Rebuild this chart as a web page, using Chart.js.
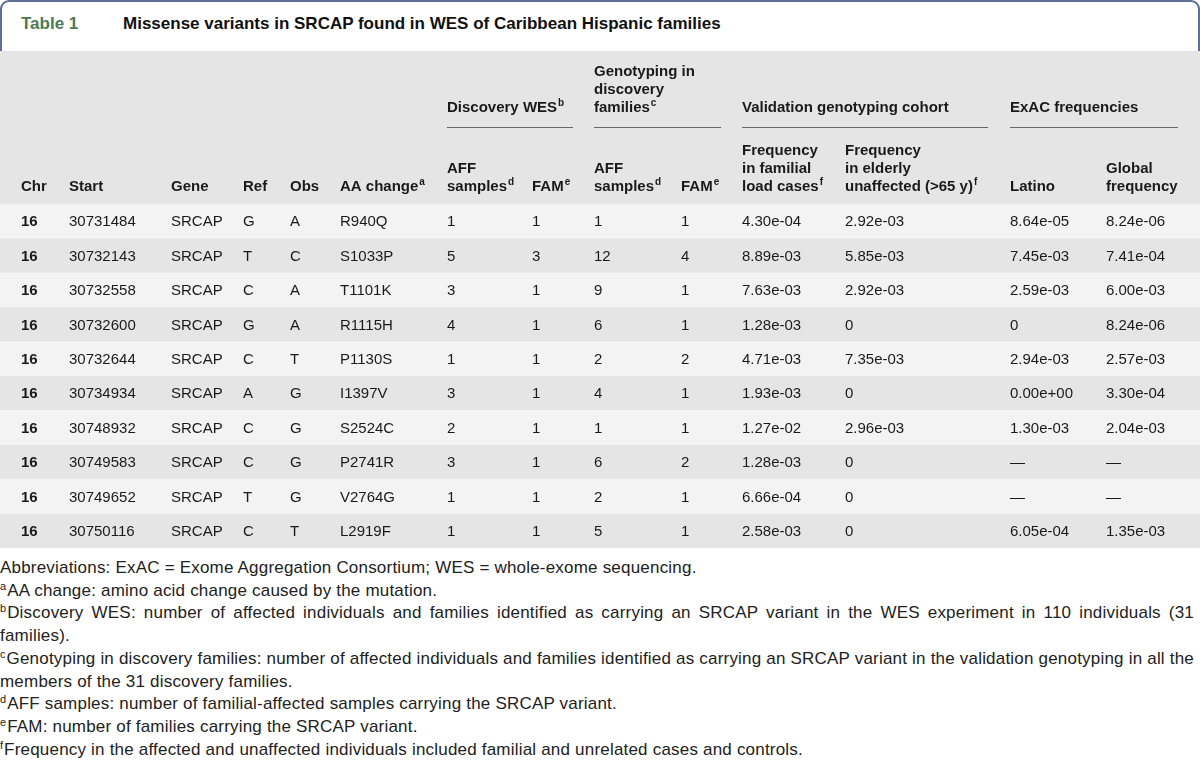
<!DOCTYPE html>
<html>
<head>
<meta charset="utf-8">
<script src="https://cdn.jsdelivr.net/npm/chart.js@4"></script>
<style>
  body { margin: 0; background: #fff; font-family: "Liberation Sans", Arial, sans-serif; }
  #wrap { position: relative; width: 1200px; height: 768px; overflow: hidden; }
  #titleBox {
    position: absolute; left: 0; top: 0; width: 1196px; height: 49px;
    border: 2px solid #5d6f97; border-bottom: none; border-radius: 9px 9px 0 0;
  }
  #titleBox .num { position: absolute; left: 19px; top: 12px; font-weight: bold; font-size: 17px; color: #4b7a57; }
  #titleBox .ttl { position: absolute; left: 121px; top: 12px; font-weight: bold; font-size: 17px; color: #111; }
  #tableBox { position: absolute; left: 0; top: 51px; width: 1200px; height: 497px; }
  #notes {
    position: absolute; left: 0; top: 557px; width: 1194px;
    font-size: 17px; letter-spacing: 0.2px; line-height: 22.7px; color: #222; text-align: justify;
  }
  #notes sup { font-size: 11px; line-height: 0; vertical-align: 6px; margin-right: 1px; letter-spacing: 0; }
</style>
</head>
<body>
<div id="wrap">
  <div id="titleBox">
    <span class="num">Table 1</span>
    <span class="ttl">Missense variants in SRCAP found in WES of Caribbean Hispanic families</span>
  </div>
  <div id="tableBox">
    <canvas id="tableCanvas" width="1200" height="497"></canvas>
  </div>
  <div id="notes">
    Abbreviations: ExAC = Exome Aggregation Consortium; WES = whole-exome sequencing.<br>
    <sup>a</sup>AA change: amino acid change caused by the mutation.<br>
    <sup>b</sup>Discovery WES: number of affected individuals and families identified as carrying an SRCAP variant in the WES experiment in 110 individuals (31 families).<br>
    <sup>c</sup>Genotyping in discovery families: number of affected individuals and families identified as carrying an SRCAP variant in the validation genotyping in all the members of the 31 discovery families.<br>
    <sup>d</sup>AFF samples: number of familial-affected samples carrying the SRCAP variant.<br>
    <sup>e</sup>FAM: number of families carrying the SRCAP variant.<br>
    <sup>f</sup>Frequency in the affected and unaffected individuals included familial and unrelated cases and controls.
  </div>
</div>

<script>
// table values
const chrom = ['16', '16', '16', '16', '16', '16', '16', '16', '16', '16'];
const starts = ['30731484', '30732143', '30732558', '30732600', '30732644', '30734934', '30748932', '30749583', '30749652', '30750116'];
const genes = ['SRCAP', 'SRCAP', 'SRCAP', 'SRCAP', 'SRCAP', 'SRCAP', 'SRCAP', 'SRCAP', 'SRCAP', 'SRCAP'];
const refs = ['G', 'T', 'C', 'G', 'C', 'A', 'C', 'C', 'T', 'C'];
const obs = ['A', 'C', 'A', 'A', 'T', 'G', 'G', 'G', 'G', 'T'];
const aaChanges = ['R940Q', 'S1033P', 'T1101K', 'R1115H', 'P1130S', 'I1397V', 'S2524C', 'P2741R', 'V2764G', 'L2919F'];
const wesAff = [1, 5, 3, 4, 1, 3, 2, 3, 1, 1];
const wesFam = [1, 3, 1, 1, 1, 1, 1, 1, 1, 1];
const genoAff = [1, 12, 9, 6, 2, 4, 1, 6, 2, 5];
const genoFam = [1, 4, 1, 1, 2, 1, 1, 2, 1, 1];
const freqFamilial = ['4.30e-04', '8.89e-03', '7.63e-03', '1.28e-03', '4.71e-03', '1.93e-03', '1.27e-02', '1.28e-03', '6.66e-04', '2.58e-03'];
const freqElderly = ['2.92e-03', '5.85e-03', '2.92e-03', '0', '7.35e-03', '0', '2.96e-03', '0', '0', '0'];
const exacLatino = ['8.64e-05', '7.45e-03', '2.59e-03', '0', '2.94e-03', '0.00e+00', '1.30e-03', '—', '—', '6.05e-04'];
const exacGlobal = ['8.24e-06', '7.41e-04', '6.00e-03', '8.24e-06', '2.57e-03', '3.30e-04', '2.04e-03', '—', '—', '1.35e-03'];

const columns = [chrom, starts, genes, refs, obs, aaChanges, wesAff, wesFam, genoAff, genoFam,
                 freqFamilial, freqElderly, exacLatino, exacGlobal];

const colHeads = [
    ['Chr'], ['Start'], ['Gene'], ['Ref'], ['Obs'], ['AA change^a'],
    ['AFF', 'samples^d'], ['FAM^e'], ['AFF', 'samples^d'], ['FAM^e'],
    ['Frequency', 'in familial', 'load cases^f'],
    ['Frequency', 'in elderly', 'unaffected (>65 y)^f'],
    ['Latino'], ['Global', 'frequency']
];
const groupHeads = [
    { lines: ['Discovery WES^b'], first: 6 },
    { lines: ['Genotyping in', 'discovery', 'families^c'], first: 8 },
    { lines: ['Validation genotyping cohort'], first: 10 },
    { lines: ['ExAC frequencies'], first: 12 }
];

// layout (x of column left edges, group rule ends)
const colLeft = [21, 69, 171, 243, 290, 340, 447, 532, 594, 681, 742, 845, 1010, 1106];
const groupRuleEnd = [573, 721, 988, 1178];

const FONT = '"Liberation Sans", Arial, sans-serif';

// text with optional ^superscript suffix
function drawSup(ctx, str, x, y, bold) {
    const parts = str.split('^');
    ctx.font = (bold ? 'bold ' : '') + '15px ' + FONT;
    ctx.fillText(parts[0], x, y);
    if (parts[1]) {
        const w = ctx.measureText(parts[0]).width;
        ctx.font = (bold ? 'bold ' : '') + '10px ' + FONT;
        ctx.fillText(parts[1], x + w + 1, y - 5);
    }
}

const tablePlugin = {
    id: 'tablePlugin',
    beforeDraw(chart) {
        const ctx = chart.ctx;
        const area = chart.chartArea;
        const yScale = chart.scales.y;
        const band = (area.bottom - area.top) / chart.data.labels.length;
        ctx.save();
        ctx.fillStyle = '#e5e5e5';
        ctx.fillRect(0, 0, chart.width, area.top);
        chart.data.labels.forEach((lab, i) => {
            const yc = yScale.getPixelForValue(i);
            ctx.fillStyle = i % 2 === 0 ? '#f3f3f3' : '#e5e5e5';
            ctx.fillRect(0, yc - band / 2, chart.width, band);
        });
        ctx.restore();
    },
    afterDraw(chart) {
        const ctx = chart.ctx;
        const yScale = chart.scales.y;
        const xScale = chart.scales.x;
        const area = chart.chartArea;
        ctx.save();
        ctx.textBaseline = 'middle';
        ctx.fillStyle = '#1a1a1a';

        // group headers + rules
        const groupBottom = 57;
        groupHeads.forEach((g, gi) => {
            const x = xScale.getPixelForValue(colLeft[g.first]);
            g.lines.forEach((ln, li) => {
                drawSup(ctx, ln, x, groupBottom - (g.lines.length - 1 - li) * 18, true);
            });
            ctx.strokeStyle = '#666';
            ctx.lineWidth = 1;
            ctx.beginPath();
            ctx.moveTo(x, 76.5);
            ctx.lineTo(xScale.getPixelForValue(groupRuleEnd[gi]), 76.5);
            ctx.stroke();
        });

        // column headers
        const headBottom = area.top - 17;
        colHeads.forEach((lines, ci) => {
            const x = xScale.getPixelForValue(colLeft[ci]);
            lines.forEach((ln, li) => {
                drawSup(ctx, ln, x, headBottom - (lines.length - 1 - li) * 18, true);
            });
        });

        // cells
        columns.forEach((col, ci) => {
            const x = xScale.getPixelForValue(colLeft[ci]);
            ctx.font = (ci === 0 ? 'bold ' : '') + '15px ' + FONT;
            col.forEach((v, ri) => {
                ctx.fillText(String(v), x, yScale.getPixelForValue(ri) + 1);
            });
        });
        ctx.restore();
    }
};

const ctx = document.getElementById('tableCanvas').getContext('2d');
new Chart(ctx, {
    type: 'bar',
    data: {
        labels: starts,
        datasets: []
    },
    options: {
        indexAxis: 'y',
        responsive: false,
        animation: false,
        layout: { padding: { top: 153, left: 0, right: 0, bottom: 0 } },
        plugins: { legend: { display: false }, tooltip: { enabled: false } },
        scales: {
            x: { type: 'linear', min: 0, max: 1200, display: false },
            y: { type: 'category', offset: true, display: false }
        }
    },
    plugins: [tablePlugin]
});
</script>
</body>
</html>
